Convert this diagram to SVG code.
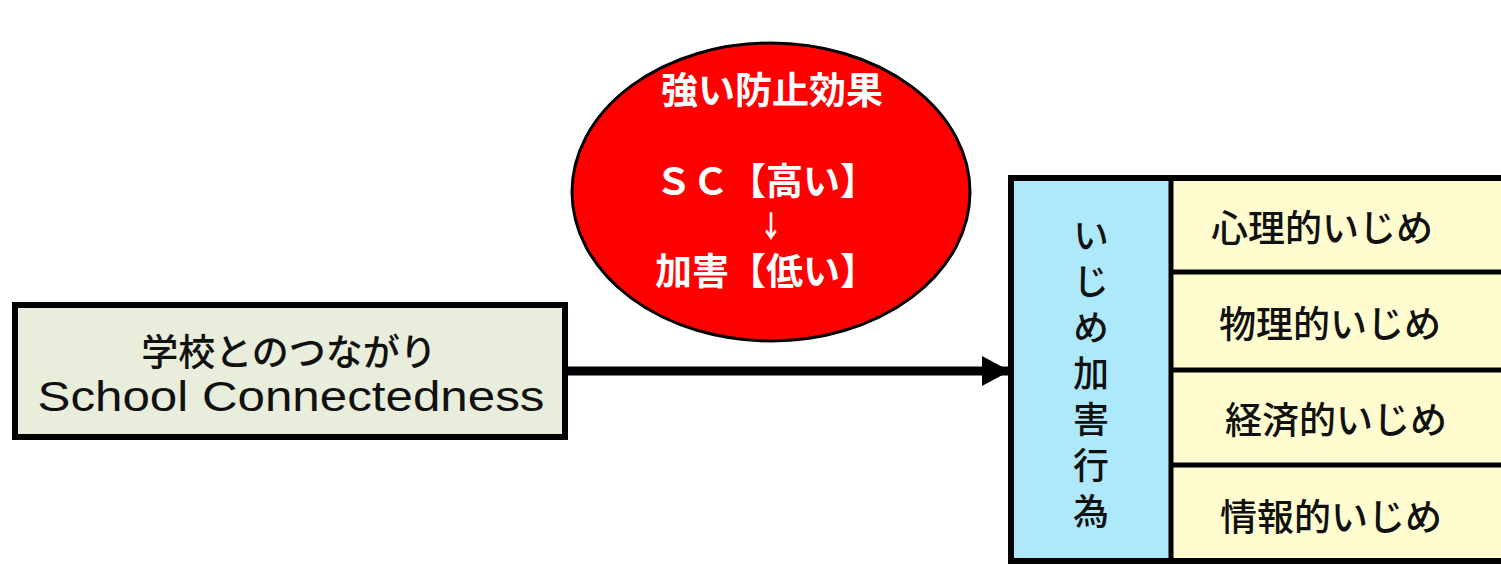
<svg xmlns="http://www.w3.org/2000/svg" width="1501" height="565" viewBox="0 0 1501 565">
<style>
.jp{font-family:"Noto Sans CJK JP","Noto Sans CJK SC",sans-serif;font-weight:500;fill:#111}
.wt{font-family:"Noto Sans CJK JP","Noto Sans CJK SC",sans-serif;font-weight:700;fill:#fff}
.box{stroke:#000;stroke-width:6}
</style>
<defs>
<marker id="ah" markerWidth="28" markerHeight="30" refX="28" refY="15" orient="auto" markerUnits="userSpaceOnUse">
<path d="M0,0 L28,15 L0,30 Z" fill="#000"/>
</marker>
</defs>
<rect width="1501" height="565" fill="#fff"/>
<g id="connectors">
<line x1="568" y1="371" x2="1010" y2="371" stroke="#000" stroke-width="9" marker-end="url(#ah)"/>
</g>
<g id="node-sc">
<rect class="box" x="15" y="305" width="550" height="132" fill="#e9eddb"/>
<text class="jp" x="289" y="350" font-size="37" text-anchor="middle" dominant-baseline="central">学校とのつながり</text>
<text x="291" y="411" font-family="'Liberation Sans',Arial,sans-serif" font-size="43" fill="#111" text-anchor="middle" textLength="507" lengthAdjust="spacingAndGlyphs">School Connectedness</text>
</g>
<g id="node-effect">
<ellipse cx="771" cy="192" rx="199" ry="149" fill="#ff0000" stroke="#000" stroke-width="3"/>
<text class="wt" x="772" y="88" font-size="37" text-anchor="middle" dominant-baseline="central">強い防止効果</text>
<text class="wt" x="655" y="179" font-size="37" dominant-baseline="central">ＳＣ【高い】</text>
<text class="wt" x="771" y="224" font-size="23" text-anchor="middle" dominant-baseline="central" transform="translate(771 224) scale(1 1.3) translate(-771 -224)">↓</text>
<text class="wt" x="655" y="269" font-size="37" dominant-baseline="central">加害【低い】</text>
</g>
<g id="node-bullying">
<rect class="box" x="1011" y="178" width="500" height="383" fill="#fffdd0"/>
<rect x="1014" y="181" width="157" height="377" fill="#aee8fb"/>
<line x1="1171" y1="178" x2="1171" y2="561" stroke="#000" stroke-width="5"/>
<line x1="1171" y1="272" x2="1501" y2="272" stroke="#000" stroke-width="5"/>
<line x1="1171" y1="370" x2="1501" y2="370" stroke="#000" stroke-width="5"/>
<line x1="1171" y1="465" x2="1501" y2="465" stroke="#000" stroke-width="5"/>
<text class="jp" x="1091" y="217" font-size="36" writing-mode="vertical-rl" letter-spacing="10">いじめ加害行為</text>
</g>
<g id="node-psych"><text class="jp" x="1322" y="226" font-size="37" text-anchor="middle" dominant-baseline="central">心理的いじめ</text></g>
<g id="node-phys"><text class="jp" x="1330" y="322" font-size="37" text-anchor="middle" dominant-baseline="central">物理的いじめ</text></g>
<g id="node-econ"><text class="jp" x="1336" y="418" font-size="37" text-anchor="middle" dominant-baseline="central">経済的いじめ</text></g>
<g id="node-info"><text class="jp" x="1331" y="515" font-size="37" text-anchor="middle" dominant-baseline="central">情報的いじめ</text></g>
</svg>
